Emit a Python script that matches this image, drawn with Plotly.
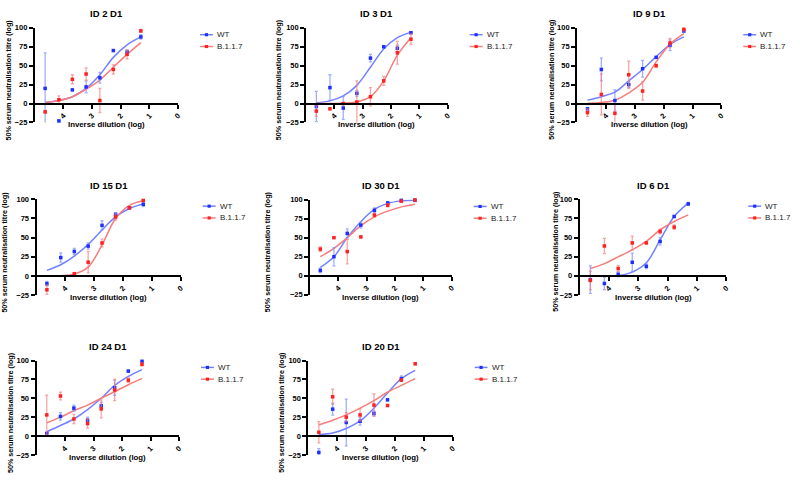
import plotly.graph_objects as go

W, H = 800, 483
FONT = "Liberation Sans, Arial, sans-serif"

# ---------------- data ----------------
X_DIL = [4.64, 4.16, 3.69, 3.21, 2.73, 2.26, 1.78, 1.30]   # inverse dilution (log)
X_TICKS = [4, 3, 2, 1, 0]
Y_TICKS = [-25, 0, 25, 50, 75, 100]
SERIES = ["WT", "B.1.1.7"]
TITLES = ["ID 2 D1", "ID 3 D1", "ID 9 D1", "ID 15 D1", "ID 30 D1", "ID 6 D1", "ID 24 D1", "ID 20 D1"]
X_TITLE = "Inverse dilution (log)"
Y_TITLE = "50% serum neutralisation titre (log)"

ID2_WT = [20, -23, 18, 22, 34, 70, 68, 88]
ID2_WT_ERR = [47, 1, 1, 8, 7, 1, 3, 3]
ID2_B = [-11, 5, 32, 39, 4, 45, 65, 96]
ID2_B_ERR = [2, 5, 6, 8, 16, 6, 6, 2]
ID2_WT_FIT = [1.3, 4, 9, 20, 38, 61, 77.5, 88]
ID2_B_FIT = [1.3, 4, 9, 19, 31, 48, 65, 80.5]

ID3_WT = [-4, 21, -6, 13.5, 60, 75, 73, 93.5]
ID3_WT_ERR = [20, 17, 15, 4, 5, 1, 4, 1]
ID3_B = [-10, -7, 0, 2, 9, 30, 67, 85]
ID3_B_ERR = [7, 1, 1, 28, 12, 6, 15, 7]
ID3_WT_FIT = [1, 3.5, 10, 24, 48, 72, 87, 94]
ID3_B_FIT = [0, 0, 0.5, 2, 9, 30, 64, 87]

ID9_WT = [-7, 45, 4, 25, 46, 61, 77, 96]
ID9_WT_ERR = [1, 15, 14, 4, 11, 1, 7, 2]
ID9_B = [-12, 12, -13, 38, 16.5, 50, 80, 98]
ID9_B_ERR = [5, 27, 13, 18, 12, 2, 6, 2]
ID9_WT_FIT = [4.5, 9, 15, 30, 45, 62, 78, 88]
ID9_B_FIT = [0.4, 1.3, 4.3, 14, 28, 55, 78.5, 92.5]

ID15_WT = [-10, 24, 32, 39, 66, 80.5, 89, 93.5]
ID15_WT_ERR = [3, 6, 4, 4, 6, 1, 1, 3]
ID15_B = [-18, None, 3, 18, 43, 77, 89, 98.5]
ID15_B_ERR = [6, 0, 1, 14, 5, 4, 1, 1]
ID15_WT_FIT = [7.3, 14.7, 26, 41, 60, 77, 88, 94]
ID15_B_FIT = [0, 0.4, 2.6, 11.6, 40.5, 75, 92, 98]

ID30_WT = [7, 25, 55.6, 66.5, 86, 95.6, 99, 99]
ID30_WT_ERR = [3, 12, 6, 4, 3, 1, 1, 1]
ID30_B = [35, 50, 31.7, 51, 79.6, 92.6, 98, 99.5]
ID30_B_ERR = [3, 1, 16, 1, 3, 2, 1, 1]
ID30_WT_FIT = [11, 25, 50, 71, 87, 95, 98.3, 99]
ID30_B_FIT = [25, 36, 50, 65.7, 77.4, 84.8, 90.4, 94]

ID6_WT = [-5, -10, 2, 17.7, 12.5, 45, 77.5, 94]
ID6_WT_ERR = [18, 8, 3, 12, 3, 5, 1, 2]
ID6_B = [-6, 39, 9.5, 43, 43, 58, 63.6, None]
ID6_B_ERR = [12, 10, 4, 9, 1, 3, 3, 0]
ID6_WT_FIT = [0, 0, 0.4, 4.8, 17, 47, 77.5, 95]
ID6_B_FIT = [9.5, 16, 24.7, 34, 45, 60, 71, 79.7]

ID24_WT = [3.5, 26, 37, 21, 40, 64, 86, 99]
ID24_WT_ERR = [1, 5, 4, 4, 5, 10, 1, 1]
ID24_B = [28, 53, 22.6, 16.5, 36, 61, 74, 95]
ID24_B_ERR = [26, 5, 6, 6, 12, 14, 3, 2]
ID24_WT_FIT = [5.7, 14, 22.6, 35, 50, 67, 79, 88]
ID24_B_FIT = [17.4, 25, 33.5, 41, 50, 58.7, 68, 76]

ID20_WT = [-21.7, 35.6, 18, 19.6, 30, 48, 76, None]
ID20_WT_ERR = [5, 8, 31, 5, 3, 1, 3.5, 0]
ID20_B = [5, 52, 25, 28, 41, 40.4, 74, 95.7]
ID20_B_ERR = [14, 10, 6, 8, 15, 1, 1, 1]
ID20_WT_FIT = [2, 4, 10, 20, 37, 57, 76, 87]
ID20_B_FIT = [15, 21, 28, 37, 47, 58, 67, 76]

PANELS = [
    (ID2_WT, ID2_WT_ERR, ID2_B, ID2_B_ERR, ID2_WT_FIT, ID2_B_FIT),
    (ID3_WT, ID3_WT_ERR, ID3_B, ID3_B_ERR, ID3_WT_FIT, ID3_B_FIT),
    (ID9_WT, ID9_WT_ERR, ID9_B, ID9_B_ERR, ID9_WT_FIT, ID9_B_FIT),
    (ID15_WT, ID15_WT_ERR, ID15_B, ID15_B_ERR, ID15_WT_FIT, ID15_B_FIT),
    (ID30_WT, ID30_WT_ERR, ID30_B, ID30_B_ERR, ID30_WT_FIT, ID30_B_FIT),
    (ID6_WT, ID6_WT_ERR, ID6_B, ID6_B_ERR, ID6_WT_FIT, ID6_B_FIT),
    (ID24_WT, ID24_WT_ERR, ID24_B, ID24_B_ERR, ID24_WT_FIT, ID24_B_FIT),
    (ID20_WT, ID20_WT_ERR, ID20_B, ID20_B_ERR, ID20_WT_FIT, ID20_B_FIT),
]

# ---------------- layout geometry (pixels) ----------------
# (left, right, top, bottom, y-title centre x)
BOXES = [
    (35, 179, 24.3, 120.7, 9),
    (307.7, 450, 24.3, 120.7, 280),
    (580, 725, 24.3, 120.7, 554),
    (36.7, 181.7, 199, 296.7, 5),
    (311.7, 454, 199.3, 296.3, 269),
    (582.7, 730, 199, 296.5, 558),
    (36.7, 180, 363.3, 459.5, 10),
    (310, 455, 363.3, 459.5, 283),
]

PT_COL = {"WT": "#1f2fff", "B.1.1.7": "#ff2020"}
FIT_COL = {"WT": "#7282ff", "B.1.1.7": "#f77c7c"}
ERR_COL = {"WT": "rgba(120,140,255,0.7)", "B.1.1.7": "rgba(245,125,125,0.7)"}


def fx(px):
    return px / W


def fy(py):
    return 1 - py / H


fig = go.Figure()
layout = dict(
    width=W, height=H, autosize=False,
    margin=dict(l=0, r=0, t=0, b=0),
    paper_bgcolor="white", plot_bgcolor="white",
    showlegend=False,
    font=dict(family=FONT, color="black"),
)
annotations = []
shapes = []

tickfont = dict(family=FONT, size=7.5, color="black", weight="bold")

for i, (box, data, title) in enumerate(zip(BOXES, PANELS, TITLES)):
    k = "" if i == 0 else str(i + 1)
    xl, xr, yt, yb, ytx = box
    y0px = yb - 0.2 * (yb - yt)
    wt, wt_err, b, b_err, wt_fit, b_fit = data

    layout["xaxis" + k] = dict(
        domain=[fx(xl), fx(xr)], range=[5, 0], anchor="free", position=fy(y0px),
        showline=True, linecolor="black", linewidth=2,
        ticks="outside", ticklen=4, tickwidth=1.5, tickcolor="black",
        tickvals=X_TICKS, ticktext=[str(t) for t in X_TICKS], tickangle=-45,
        tickfont=tickfont, showgrid=False, zeroline=False, fixedrange=True,
    )
    layout["yaxis" + k] = dict(
        domain=[fy(yb), fy(yt)], range=[-25, 100], anchor="x" + k,
        showline=True, linecolor="black", linewidth=2,
        ticks="outside", ticklen=4, tickwidth=1.5, tickcolor="black",
        tickvals=Y_TICKS, tickfont=tickfont, showgrid=False, zeroline=False,
        fixedrange=True,
    )

    xref, yref = "x" + k, "y" + k
    for name, fit in zip(SERIES, [wt_fit, b_fit]):
        fig.add_trace(go.Scatter(
            x=X_DIL, y=fit, mode="lines", line=dict(color=FIT_COL[name], width=1.5, shape="spline", smoothing=1.0),
            xaxis=xref, yaxis=yref, hoverinfo="skip", name=name,
        ))
    for name, vals, errs in zip(SERIES, [wt, b], [wt_err, b_err]):
        fig.add_trace(go.Scatter(
            x=X_DIL, y=vals, mode="markers",
            marker=dict(symbol="square", size=3.5, color=PT_COL[name]),
            error_y=dict(type="data", array=errs, visible=True, color=ERR_COL[name], thickness=1.3, width=1.5),
            xaxis=xref, yaxis=yref, name=name, cliponaxis=False,
        ))

    cx = (xl + xr) / 2
    annotations.append(dict(text="<b>%s</b>" % title, x=fx(cx), y=fy(yt - 14.5), xref="paper", yref="paper",
                            showarrow=False, xanchor="center", yanchor="middle",
                            font=dict(family=FONT, size=9.5, color="black")))
    annotations.append(dict(text="<b>%s</b>" % X_TITLE, x=fx(cx), y=fy(yb + 2.5), xref="paper", yref="paper",
                            showarrow=False, xanchor="center", yanchor="middle",
                            font=dict(family=FONT, size=7.8, color="black")))
    annotations.append(dict(text="<b>%s</b>" % Y_TITLE, x=fx(ytx), y=fy((yt + yb) / 2 + 4.5), xref="paper", yref="paper",
                            showarrow=False, xanchor="center", yanchor="middle", textangle=-90,
                            font=dict(family=FONT, size=7.2, color="black")))

    # legend
    for j, name in enumerate(SERIES):
        ly = yt + 7 + j * 12
        lx0, lx1 = xr + 22, xr + 35
        shapes.append(dict(type="line", xref="paper", yref="paper", x0=fx(lx0), x1=fx(lx1), y0=fy(ly), y1=fy(ly),
                           line=dict(color=FIT_COL[name], width=1.5)))
        mx = (lx0 + lx1) / 2
        shapes.append(dict(type="rect", xref="paper", yref="paper", x0=fx(mx - 1.6), x1=fx(mx + 1.6),
                           y0=fy(ly + 1.6), y1=fy(ly - 1.6), line=dict(width=0), fillcolor=PT_COL[name]))
        annotations.append(dict(text=name, x=fx(xr + 38), y=fy(ly), xref="paper", yref="paper",
                                showarrow=False, xanchor="left", yanchor="middle", borderpad=0,
                                font=dict(family=FONT, size=8, color="#222222")))

layout["annotations"] = annotations
layout["shapes"] = shapes
fig.update_layout(**layout)
fig.write_html("out.html", config={"displayModeBar": False},
               post_script="document.body.style.margin='0';document.body.style.overflow='hidden';")
